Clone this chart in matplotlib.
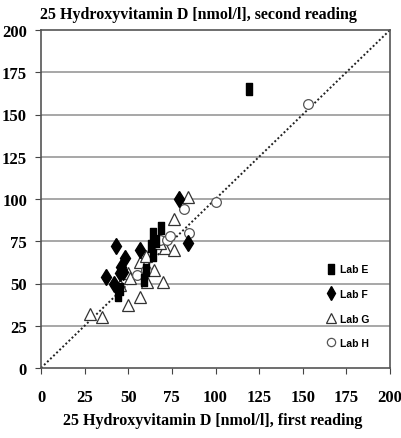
import matplotlib
matplotlib.use("Agg")
import matplotlib.pyplot as plt

# readings (first, second) per lab
labE_x = [44, 45, 59, 60, 63, 64, 64, 69, 66, 119]
labE_y = [43, 47, 52, 58, 72, 67, 79, 83, 75, 165]

labF_x = [43, 37, 42, 79, 84, 48, 57, 46, 47, 45]
labF_y = [72, 54, 50, 100, 74, 65, 70, 60, 57, 56]

labG_x = [28, 35, 50, 57, 45, 50, 51, 57, 61, 65, 70, 71, 76, 76, 84, 60, 68]
labG_y = [32, 30, 37, 42, 49, 56, 53, 63, 51, 58, 51, 71, 70, 88, 101, 66, 74]

labH_x = [60, 68, 72, 82, 85, 100, 153, 55, 74]
labH_y = [58, 76, 76, 94, 80, 98, 156, 55, 78]

ticks = [0, 25, 50, 75, 100, 125, 150, 175, 200]

serif = 'Liberation Serif'
rect = [(-0.6, -1), (0.6, -1), (0.6, 1), (-0.6, 1), (-0.6, -1)]

fig = plt.figure(figsize=(4.01, 4.39), dpi=100)
ax = fig.add_axes([41/401, 70/439, 349/401, 338/439])

# grid lines
for t in ticks[1:-1]:
    ax.axhline(t, color='#a0a0a0', lw=1.3, zorder=0)

# identity line
ax.plot([0, 200], [0, 200], color='#222222', ls=(0, (1, 1.2)), lw=1.4, zorder=1)

ax.plot(labE_x, labE_y, ls='none', marker=rect, ms=8, mfc='black', mec='black', label='Lab E', zorder=3)
ax.plot(labF_x, labF_y, ls='none', marker='d', ms=8.5, mfc='black', mec='black', label='Lab F', zorder=3)
ax.plot(labG_x, labG_y, ls='none', marker='^', ms=8.5, mfc='white', mec='#333333', mew=0.9, label='Lab G', zorder=2)
ax.plot(labH_x, labH_y, ls='none', marker='o', ms=7, mfc='white', mec='#555555', mew=0.9, label='Lab H', zorder=2)

ax.set_xlim(0, 200)
ax.set_ylim(0, 200)
ax.set_xticks(ticks)
ax.set_yticks(ticks)
ax.set_xticklabels([str(t) for t in ticks], fontfamily=serif, fontweight='bold', fontsize=12)
ax.set_yticklabels([str(t) for t in ticks], fontfamily=serif, fontweight='bold', fontsize=12)
ax.tick_params(axis='x', direction='out', length=4, pad=11, color='#444444')
ax.tick_params(axis='y', direction='out', length=4, pad=6, color='#444444')
for s in ax.spines.values():
    s.set_color('#555555')
    s.set_linewidth(1.2)

leg = ax.legend(loc='upper left', bbox_to_anchor=(0.805, 0.322), frameon=False,
                prop={'family': 'Liberation Sans', 'weight': 'bold', 'size': 7.5},
                markerscale=0.85, handlelength=0.8, handletextpad=0.4,
                labelspacing=1.4, borderpad=0)

fig.text(40/401, 1 - 15/439, '25 Hydroxyvitamin D [nmol/l], second reading',
         fontfamily=serif, fontweight='bold', fontsize=11.5, ha='left', va='center')
fig.text(213/401, 1 - 421/439, '25 Hydroxyvitamin D [nmol/l], first reading',
         fontfamily=serif, fontweight='bold', fontsize=11.5, ha='center', va='center')

fig.savefig('out.png', dpi=100)
